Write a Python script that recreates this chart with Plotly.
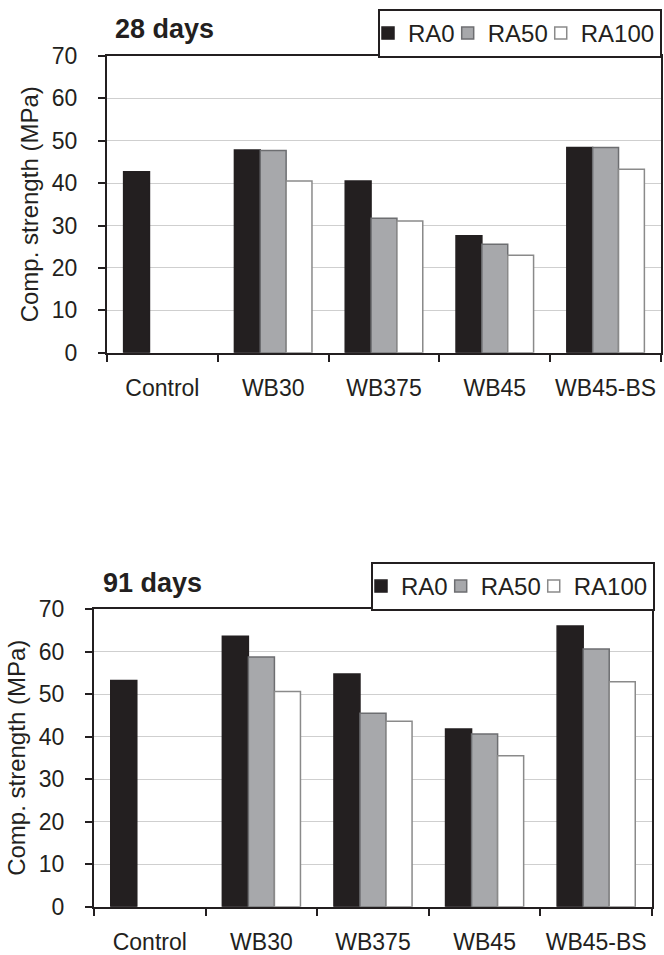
import plotly.graph_objects as go

# Compressive strength of mixes by recycled aggregate replacement level
mixes = ["Control", "WB30", "WB375", "WB45", "WB45-BS"]
series = ["RA0", "RA50", "RA100"]

strength_28 = {
    "RA0":   [42.7, 47.8, 40.5, 27.6, 48.4],
    "RA50":  [None, 47.7, 31.7, 25.6, 48.4],
    "RA100": [None, 40.5, 31.1, 23.0, 43.3],
}
strength_91 = {
    "RA0":   [53.2, 63.6, 54.7, 41.8, 66.0],
    "RA50":  [None, 58.7, 45.5, 40.6, 60.6],
    "RA100": [None, 50.6, 43.6, 35.5, 52.9],
}
panel_titles = ["28 days", "91 days"]
y_ticks = [0, 10, 20, 30, 40, 50, 60, 70]

W, H = 664, 955
INK = "#231f20"
FONT = "Liberation Sans, Arial, sans-serif"

fill = {"RA0": INK, "RA50": "#a7a8ab", "RA100": "#ffffff"}
edge = {"RA0": INK, "RA50": "#6d6e71", "RA100": "#8a8a8a"}


def px_x(p):
    return p / W


def px_y(p):
    return 1 - p / H


# panel geometry in pixels: (left, right, top, bottom)
panels = [(107, 661, 56, 352.7), (94, 652, 609, 906.7)]
legend_boxes = [(662, 9), (655, 562)]
title_pos = [(113, 29), (101, 583)]
ytitle_x = [29, 17]

fig = go.Figure()

for i, data in enumerate([strength_28, strength_91]):
    xa = "x" if i == 0 else "x2"
    ya = "y" if i == 0 else "y2"
    leg = "legend" if i == 0 else "legend2"
    for s in series:
        fig.add_trace(go.Bar(
            x=mixes, y=data[s], name=s,
            marker=dict(color=fill[s], line=dict(color=edge[s], width=1.5)),
            xaxis=xa, yaxis=ya, legend=leg,
        ))

axis_common_x = dict(
    type="category", showline=True, mirror=True, linecolor=INK, linewidth=2,
    ticks="outside", tickson="boundaries", ticklen=7, tickwidth=2, tickcolor=INK,
    showgrid=False, tickfont=dict(family=FONT, size=23, color=INK),
    tickangle=0, ticklabelstandoff=14, automargin=False, fixedrange=True,
)
axis_common_y = dict(
    range=[0, 70], tickvals=y_ticks, showline=True, mirror=True, linecolor=INK,
    linewidth=2, ticks="outside", ticklen=7, tickwidth=2, tickcolor=INK,
    showgrid=True, gridcolor="#cfcfcf", gridwidth=1.2, zeroline=False,
    tickfont=dict(family=FONT, size=23, color=INK), ticklabelstandoff=16,
    automargin=False, fixedrange=True,
)

for i, (l, r, t, b) in enumerate(panels):
    xkey = "xaxis" if i == 0 else "xaxis2"
    ykey = "yaxis" if i == 0 else "yaxis2"
    fig.update_layout(**{
        xkey: dict(axis_common_x, domain=[px_x(l), px_x(r)],
                   anchor="y" if i == 0 else "y2"),
        ykey: dict(axis_common_y, domain=[px_y(b), px_y(t)],
                   anchor="x" if i == 0 else "x2"),
    })
    fig.add_annotation(
        text="Comp. strength (MPa)", textangle=-90, showarrow=False,
        xref="paper", yref="paper", x=px_x(ytitle_x[i]), y=px_y((t + b) / 2),
        xanchor="center", yanchor="middle",
        font=dict(family=FONT, size=24, color=INK),
    )
    tx, ty = title_pos[i]
    fig.add_annotation(
        text="<b>" + panel_titles[i] + "</b>", showarrow=False,
        xref="paper", yref="paper", x=px_x(tx), y=px_y(ty),
        xanchor="left", yanchor="middle",
        font=dict(family=FONT, size=27, color=INK),
    )

for i, key in enumerate(["legend", "legend2"]):
    lx, ly = legend_boxes[i]
    fig.update_layout(**{key: dict(
        orientation="h", x=px_x(lx), y=px_y(ly), xanchor="right", yanchor="top",
        bgcolor="white", bordercolor=INK, borderwidth=2,
        font=dict(family=FONT, size=24, color=INK),
        itemwidth=30, indentation=-12, tracegroupgap=0,
        itemclick=False, itemdoubleclick=False,
    )})

fig.update_layout(
    width=W, height=H, margin=dict(l=0, r=0, t=0, b=0, autoexpand=False),
    paper_bgcolor="white", plot_bgcolor="white",
    barmode="group", bargap=0.3, bargroupgap=0,
    showlegend=True,
)

fig.write_html(
    "out.html",
    post_script=(
        "document.body.style.margin='0';"
        "document.body.style.overflow='hidden';"
        "document.documentElement.style.overflow='hidden';"
    ),
)
